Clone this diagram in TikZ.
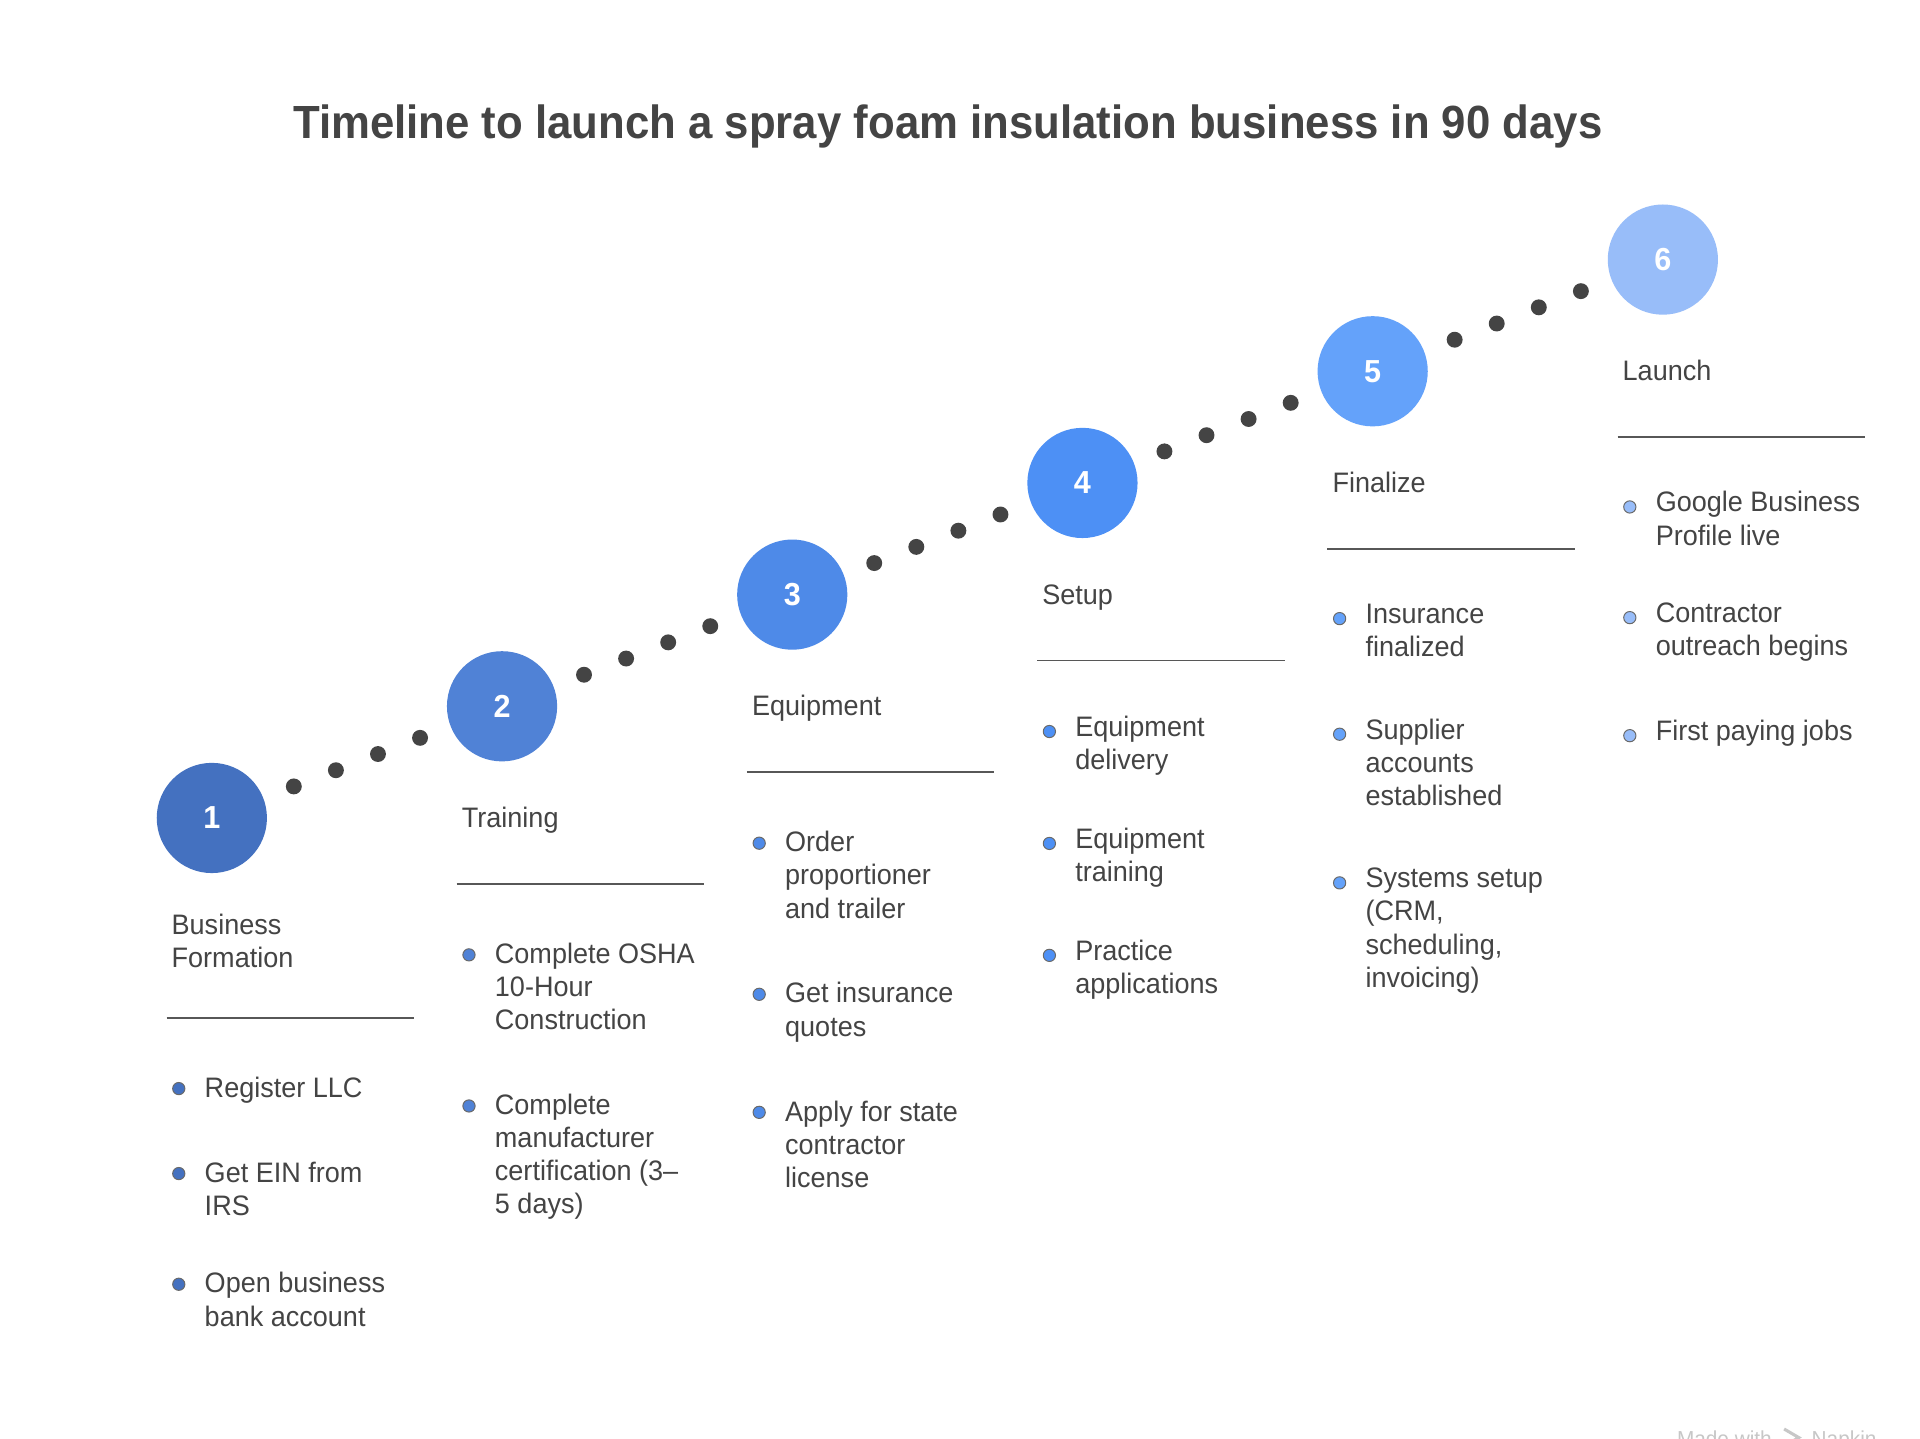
\documentclass[tikz,border=0pt]{standalone}
\usepackage{fontspec}
\setmainfont{Liberation Sans}[FakeStretch=0.96]
\newfontfamily\headfont{Liberation Sans}[FakeStretch=0.94]
\usetikzlibrary{positioning,calc}

\definecolor{ink}{HTML}{444444}
\definecolor{tone1}{HTML}{4471C0}
\definecolor{tone2}{HTML}{5082D6}
\definecolor{tone3}{HTML}{4E8AE8}
\definecolor{tone4}{HTML}{4D90F5}
\definecolor{tone5}{HTML}{64A2FA}
\definecolor{tone6}{HTML}{98BDF9}

\begin{document}
\begin{tikzpicture}[x=1pt,y=-1pt]
  \tikzset{
    stepnode/.style={circle,minimum size=90pt,inner sep=0pt,text=white,font=\fontsize{26}{30}\selectfont\bfseries},
    phase/.style={anchor=north west,inner sep=0pt,align=left,text=ink,font=\fontsize{23}{27}\selectfont},
    item/.style={phase},
    rule/.style={draw=ink!90,line width=1.6pt},
    bul/.style={draw=ink!80,line width=0.8pt}
  }
  \useasboundingbox[fill=white] (0,0) rectangle (1568,1175);
  \node[text=ink,font=\headfont\fontsize{38}{44}\selectfont\bfseries,anchor=base] (title) at (774,113) {Timeline to launch a spray foam insulation business in 90 days};
  \foreach \n in {1,...,6}
    \node[stepnode,fill=tone\n] (s\n) at ({173+237*(\n-1)},{668-91.2*(\n-1)}) {\n};
  \foreach \a/\b in {s1/s2,s2/s3,s3/s4,s4/s5,s5/s6}
    \foreach \f in {0.2825,0.4275,0.5725,0.7175}
      \fill[ink] ($(\a)!\f!(\b)$) circle[radius=6.5];

  % 1 business formation
  \node[phase] (p1) at ([shift={(-33,76)}]s1.center) {\strut Business\\Formation\strut};
  \draw[rule] ([shift={(-37,163)}]s1.center) coordinate (r1) -- ++(202,0);
  \node[item] (b11) at ([shift={(31,46)}]r1) {\strut Register LLC\strut};
  \node[item,below right=42pt and 0pt of b11.south west] (b12) {\strut Get EIN from\\IRS\strut};
  \node[item,below right=36pt and 0pt of b12.south west] (b13) {\strut Open business\\bank account\strut};
  \foreach \b in {b11,b12,b13}
    \filldraw[bul,fill=tone1] ([shift={(-21,12)}]\b.north west) circle[radius=5];

  % 2 training
  \node[phase] (p2) at ([shift={(-33,80)}]s2.center) {\strut Training\strut};
  \draw[rule] ([shift={(-37,145)}]s2.center) coordinate (r2) -- ++(202,0);
  \node[item] (b21) at ([shift={(31,46)}]r2) {\strut Complete OSHA\\10-Hour\\Construction\strut};
  \node[item,below right=42pt and 0pt of b21.south west] (b22) {\strut Complete\\manufacturer\\certification (3–\\5 days)\strut};
  \foreach \b in {b21,b22}
    \filldraw[bul,fill=tone2] ([shift={(-21,12)}]\b.north west) circle[radius=5];

  % 3 equipment
  \node[phase] (p3) at ([shift={(-33,80)}]s3.center) {\strut Equipment\strut};
  \draw[rule] ([shift={(-37,145)}]s3.center) coordinate (r3) -- ++(202,0);
  \node[item] (b31) at ([shift={(31,46)}]r3) {\strut Order\\proportioner\\and trailer\strut};
  \node[item,below right=42pt and 0pt of b31.south west] (b32) {\strut Get insurance\\quotes\strut};
  \node[item,below right=42pt and 0pt of b32.south west] (b33) {\strut Apply for state\\contractor\\license\strut};
  \foreach \b in {b31,b32,b33}
    \filldraw[bul,fill=tone3] ([shift={(-21,12)}]\b.north west) circle[radius=5];

  % 4 setup
  \node[phase] (p4) at ([shift={(-33,80)}]s4.center) {\strut Setup\strut};
  \draw[rule] ([shift={(-37,145)}]s4.center) coordinate (r4) -- ++(202,0);
  \node[item] (b41) at ([shift={(31,43)}]r4) {\strut Equipment\\delivery\strut};
  \node[item,below right=37pt and 0pt of b41.south west] (b42) {\strut Equipment\\training\strut};
  \node[item,below right=37pt and 0pt of b42.south west] (b43) {\strut Practice\\applications\strut};
  \foreach \b in {b41,b42,b43}
    \filldraw[bul,fill=tone4] ([shift={(-21,15)}]\b.north west) circle[radius=5];

  % 5 finalize
  \node[phase] (p5) at ([shift={(-33,80)}]s5.center) {\strut Finalize\strut};
  \draw[rule] ([shift={(-37,145)}]s5.center) coordinate (r5) -- ++(202,0);
  \node[item] (b51) at ([shift={(31,42)}]r5) {\strut Insurance\\finalized\strut};
  \node[item,below right=40pt and 0pt of b51.south west] (b52) {\strut Supplier\\accounts\\established\strut};
  \node[item,below right=40pt and 0pt of b52.south west] (b53) {\strut Systems setup\\(CRM,\\scheduling,\\invoicing)\strut};
  \foreach \b in {b51,b52,b53}
    \filldraw[bul,fill=tone5] ([shift={(-21,15)}]\b.north west) circle[radius=5];

  % 6 launch
  \node[phase] (p6) at ([shift={(-33,80)}]s6.center) {\strut Launch\strut};
  \draw[rule] ([shift={(-37,145)}]s6.center) coordinate (r6) -- ++(202,0);
  \node[item] (b61) at ([shift={(31,42)}]r6) {\strut Google Business\\Profile live\strut};
  \node[item,below right=36pt and 0pt of b61.south west] (b62) {\strut Contractor\\outreach begins\strut};
  \node[item,below right=42pt and 0pt of b62.south west] (b63) {\strut First paying jobs\strut};
  \foreach \b in {b61,b62,b63}
    \filldraw[bul,fill=tone6] ([shift={(-21,15)}]\b.north west) circle[radius=5];

  % watermark
  \node[text=black!22,font=\fontsize{17.7}{20}\selectfont,anchor=base west] (mark) at (1366,1181) {Made with};
  \node[text=black!22,font=\fontsize{17.7}{20}\selectfont,anchor=base west] (napkin) at (1476,1181) {Napkin};
  \draw[black!22,line width=2.5pt] (1457,1167) -- (1469,1174) -- (1457,1181);
\end{tikzpicture}
\end{document}
